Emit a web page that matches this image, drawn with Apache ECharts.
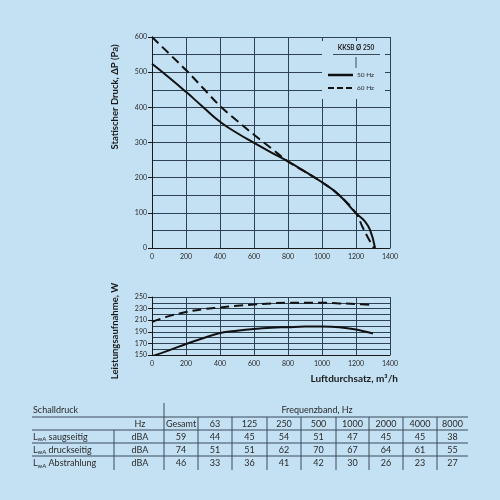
<!DOCTYPE html>
<html>
<head>
<meta charset="utf-8">
<script src="https://cdn.jsdelivr.net/npm/echarts@6/dist/echarts.min.js"></script>
<style>
  html, body { margin: 0; padding: 0; background: #c4e1f4; }
  #main { width: 500px; height: 500px; }
</style>
</head>
<body>
<div id="main"></div>
<script>
// Kennlinie Druck (oben)
var flow50 = [0, 100, 200, 300, 400, 500, 600, 700, 800, 900, 1000, 1100, 1200, 1250, 1282, 1312];
var press50 = [524, 485, 444, 401, 359, 327, 299, 272, 246, 217, 187, 151, 99, 77, 52, 0];
var flow60 = [0, 100, 200, 300, 400, 500, 600, 700, 800, 900, 1000, 1100, 1200, 1237, 1270, 1305];
var press60 = [600, 553, 506, 455, 404, 362, 322, 284, 246, 217, 187, 151, 99, 61, 30, 0];

// Leistungsaufnahme (unten)
var flowP = [0, 100, 200, 300, 400, 500, 600, 700, 800, 900, 1000, 1100, 1200, 1300];
var power50 = [148, 158, 169, 179, 188, 192, 195, 197, 198, 199, 199, 198, 194, 187];
var power60 = [207, 217, 224, 229, 232, 235, 237, 239, 240, 240, 240, 239, 238, 236];

// Schalldruck-Tabelle
var bandHeaders = ['Gesamt', '63', '125', '250', '500', '1000', '2000', '4000', '8000'];
var rowNames = ['saugseitig', 'druckseitig', 'Abstrahlung'];
var rowUnit = 'dBA';
var rowSaug = [59, 44, 45, 54, 51, 47, 45, 45, 38];
var rowDruck = [74, 51, 51, 62, 70, 67, 64, 61, 55];
var rowAbstr = [46, 33, 36, 41, 42, 30, 26, 23, 27];
var tableRows = [rowSaug, rowDruck, rowAbstr];

var BG = '#c4e1f4';
var GRIDC = '#2f4254';
var TXT = '#2a2a2a';
var FONT = 'Lato, "Open Sans", sans-serif';

function toPairs(xs, ys) {
    var res = [];
    for (var i = 0; i < xs.length; i++) {
        res.push([xs[i], ys[i]]);
    }
    return res;
}
function plain(v) {
    return String(v);
}

function xAx(gridIndex) {
    return {
        type: 'value', gridIndex: gridIndex, min: 0, max: 1400, interval: 200,
        axisLine: { show: true, lineStyle: { color: '#1a1a1a', width: 1 } },
        axisTick: { show: false },
        axisLabel: { fontSize: 7, color: TXT, margin: 5, fontFamily: FONT, formatter: plain },
        splitLine: { show: true, lineStyle: { color: GRIDC, width: 1 } }
    };
}

function yAx(gridIndex, min, max, interval) {
    return {
        type: 'value', gridIndex: gridIndex, min: min, max: max, interval: interval,
        axisLine: { show: true, lineStyle: { color: '#1a1a1a', width: 1 } },
        axisTick: { show: true, length: 4, lineStyle: { color: '#1a1a1a' } },
        minorTick: { show: false, splitNumber: 2 },
        minorSplitLine: { show: true, lineStyle: { color: GRIDC, width: 1 } },
        axisLabel: { fontSize: 7, color: TXT, margin: 5, fontFamily: FONT, formatter: plain },
        splitLine: { show: true, lineStyle: { color: GRIDC, width: 1 } }
    };
}

// Tabelle als Grafik
var colEdges = [164, 198, 232, 267, 301, 336, 369, 403, 437, 468];
var rowY = [437, 450, 463.5];
var els = [];

function addText(x, y, text, align, extra) {
    var st = { text: text, x: 0, y: 0, fill: TXT, font: '9px ' + FONT, align: align, verticalAlign: 'middle' };
    if (extra) { for (var k in extra) st[k] = extra[k]; }
    els.push({ type: 'text', x: x, y: y, z: 5, style: st });
}
function addLine(x1, y1, x2, y2) {
    els.push({ type: 'line', z: 5, shape: { x1: x1, y1: y1, x2: x2, y2: y2 }, style: { stroke: '#3a4a5a', lineWidth: 1 } });
}

addText(33, 410, 'Schalldruck', 'left');
addText(317, 410, 'Frequenzband, Hz', 'center');
addText(140, 424, 'Hz', 'center');
for (var c = 0; c < bandHeaders.length; c++) {
    addText((colEdges[c] + colEdges[c + 1]) / 2, 424, bandHeaders[c], 'center');
}
for (var r = 0; r < tableRows.length; r++) {
    els.push({
        type: 'text', x: 33, y: rowY[r], z: 5,
        style: {
            text: '{l|L}{s|wA}{l| ' + rowNames[r] + '}', fill: TXT, align: 'left', verticalAlign: 'middle',
            rich: {
                l: { font: '9px ' + FONT, fill: TXT },
                s: { font: '6px ' + FONT, fill: TXT, padding: [5, 0, 0, 0] }
            }
        }
    });
    addText(140, rowY[r], rowUnit, 'center');
    for (var c2 = 0; c2 < tableRows[r].length; c2++) {
        addText((colEdges[c2] + colEdges[c2 + 1]) / 2, rowY[r], String(tableRows[r][c2]), 'center');
    }
}
addLine(32, 417, 468, 417);
addLine(32, 430, 468, 430);
addLine(32, 443, 468, 443);
addLine(32, 456, 468, 456);
addLine(164, 403, 164, 470);
addLine(114, 430, 114, 470);
for (var e = 1; e < colEdges.length - 1; e++) {
    addLine(colEdges[e], 417, colEdges[e], 470);
}

// Achsentitel
els.push({ type: 'text', x: 115, y: 97, rotation: Math.PI / 2, z: 5,
    style: { text: 'Statischer Druck, ΔP (Pa)', fill: '#1a1a1a', font: 'bold 9.5px ' + FONT, align: 'center', verticalAlign: 'middle' } });
els.push({ type: 'text', x: 115, y: 331, rotation: Math.PI / 2, z: 5,
    style: { text: 'Leistungsaufnahme, W', fill: '#1a1a1a', font: 'bold 9.5px ' + FONT, align: 'center', verticalAlign: 'middle' } });
els.push({ type: 'text', x: 398, y: 379, z: 5,
    style: { text: 'Luftdurchsatz, m³/h', fill: '#1a1a1a', font: 'bold 10px ' + FONT, align: 'right', verticalAlign: 'middle' } });

// Legende mit Abdeckung
els.push({ type: 'rect', z: 3, shape: { x: 322, y: 41, width: 63, height: 58 }, style: { fill: BG } });
addLine(333, 54.5, 380, 54.5);
addLine(356, 57, 356, 68);
els.push({ type: 'text', x: 356, y: 48, z: 5,
    style: { text: 'KKSB Ø 250', fill: '#1a1a1a', font: 'bold 6.5px ' + FONT, align: 'center', verticalAlign: 'middle' } });
els.push({ type: 'line', z: 5, shape: { x1: 328, y1: 75, x2: 353, y2: 75 }, style: { stroke: '#111', lineWidth: 2.5 } });
els.push({ type: 'line', z: 5, shape: { x1: 328, y1: 88, x2: 353, y2: 88 }, style: { stroke: '#111', lineWidth: 2, lineDash: [6, 3] } });
addText(357, 75, '50 Hz', 'left', { font: '6.5px ' + FONT });
addText(357, 88, '60 Hz', 'left', { font: '6.5px ' + FONT });

var option = {
    backgroundColor: BG,
    animation: false,
    grid: [
        { left: 152, top: 37, width: 238, height: 211 },
        { left: 152, top: 297, width: 238, height: 58 }
    ],
    xAxis: [xAx(0), xAx(1)],
    yAxis: [yAx(0, 0, 600, 100), yAx(1, 150, 250, 20)],
    series: [
        { name: '50 Hz', type: 'line', xAxisIndex: 0, yAxisIndex: 0, data: toPairs(flow50, press50),
          smooth: 0.5, showSymbol: false, lineStyle: { color: '#111', width: 2 } },
        { name: '60 Hz', type: 'line', xAxisIndex: 0, yAxisIndex: 0, data: toPairs(flow60, press60),
          smooth: 0.4, showSymbol: false, lineStyle: { color: '#111', width: 2, type: [9, 5] } },
        { name: '50 Hz W', type: 'line', xAxisIndex: 1, yAxisIndex: 1, data: toPairs(flowP, power50),
          smooth: 0.4, showSymbol: false, lineStyle: { color: '#111', width: 2 } },
        { name: '60 Hz W', type: 'line', xAxisIndex: 1, yAxisIndex: 1, data: toPairs(flowP, power60),
          smooth: 0.4, showSymbol: false, lineStyle: { color: '#111', width: 2, type: [9, 5] } }
    ],
    graphic: { elements: els }
};

var myChart = echarts.init(document.getElementById('main'));
myChart.clear();
myChart.setOption(option);
</script>
</body>
</html>
